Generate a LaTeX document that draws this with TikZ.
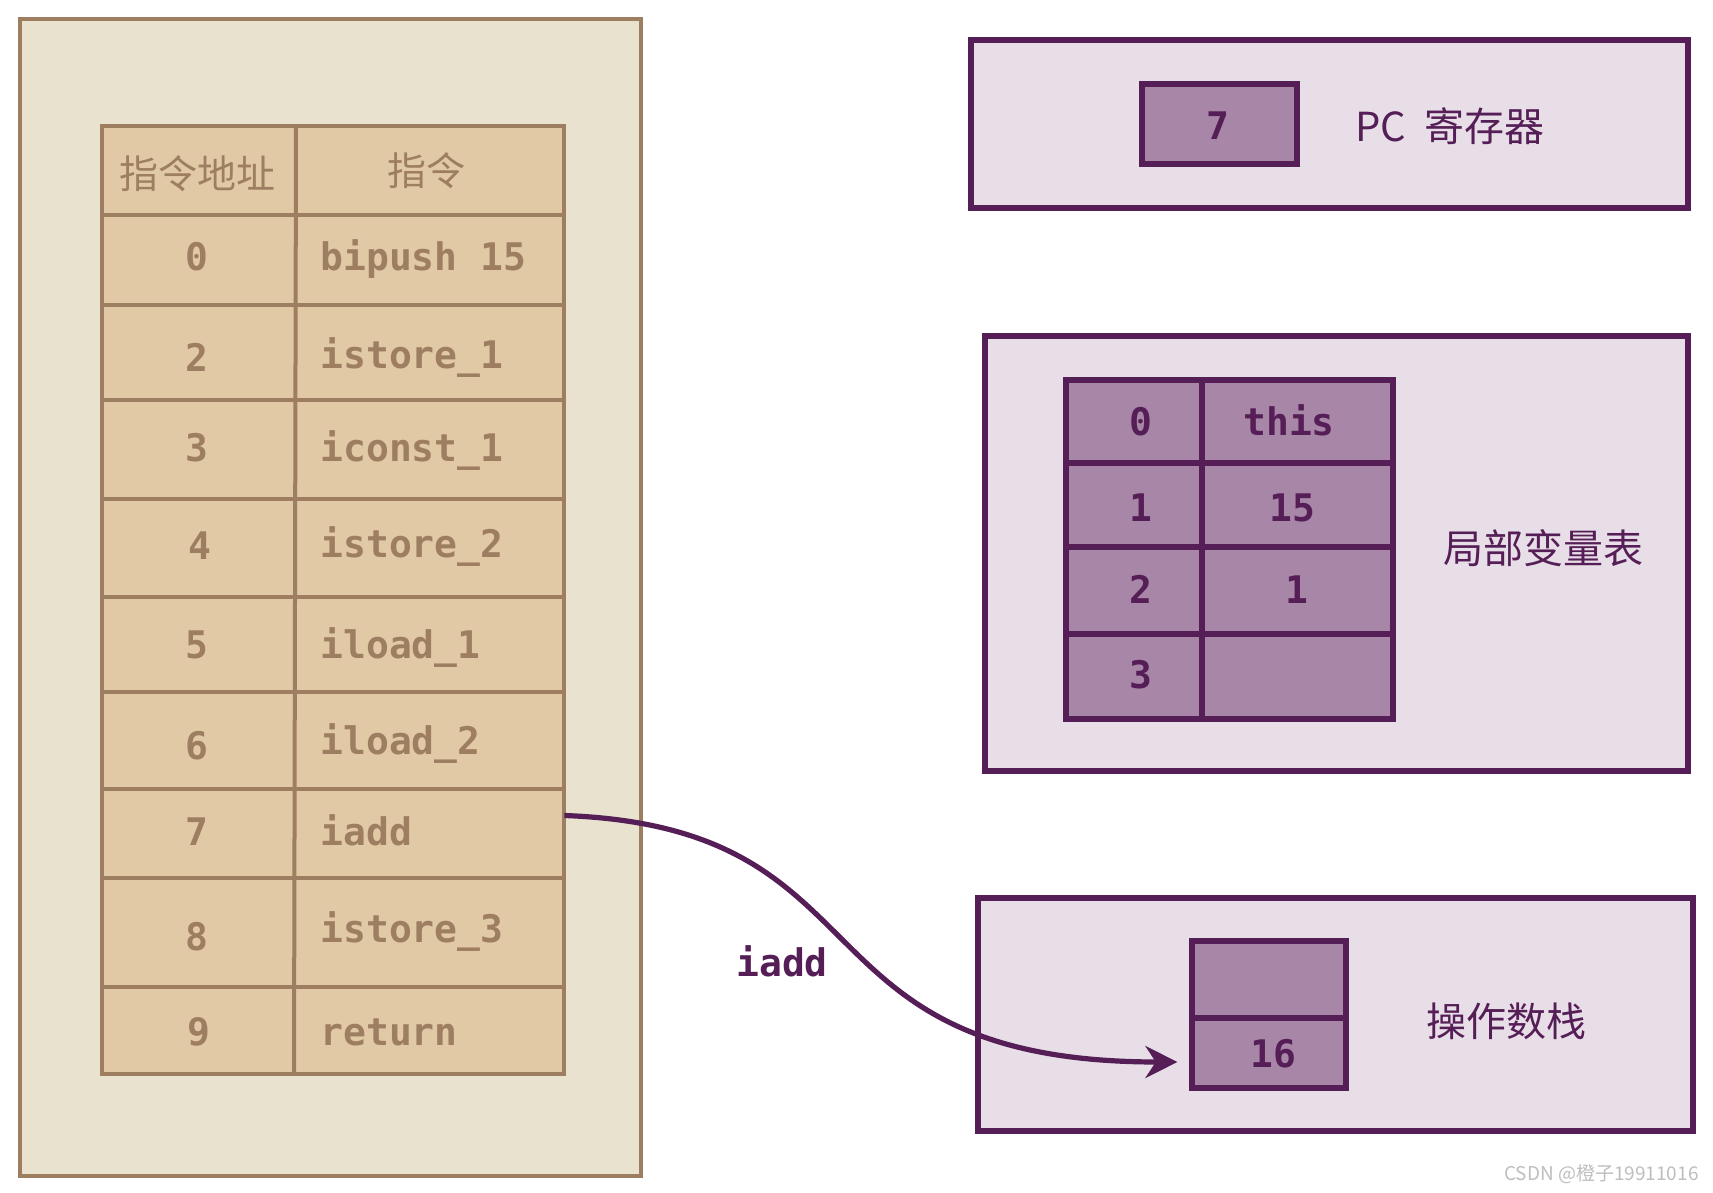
\documentclass[tikz,border=0pt]{standalone}
\usepackage{fontspec}
\setmonofont{DejaVu Sans Mono}
\newfontfamily\cjk{Noto Sans CJK SC}
\usetikzlibrary{arrows.meta}
\definecolor{outerfill}{HTML}{E9E2CF}
\definecolor{brownc}{HTML}{9E7E61}
\definecolor{tablefill}{HTML}{E1C9A5}
\definecolor{purc}{HTML}{561E56}
\definecolor{plight}{HTML}{E8DEE8}
\definecolor{pmid}{HTML}{A886A8}
\definecolor{wmark}{HTML}{BEBEBE}
\begin{document}
\begin{tikzpicture}[x=0.5pt,y=-0.5pt,
 bline/.style={draw=brownc, line width=2pt},
 pline/.style={draw=purc, line width=2.6pt},
 btxt/.style={text=brownc, font=\ttfamily\bfseries\fontsize{19}{19}\selectfont, inner sep=0pt, text height=13.8pt, text depth=0pt},
 bcjk/.style={text=brownc, font=\cjk\fontsize{19.5}{19.5}\selectfont, inner sep=0pt, text height=15pt, text depth=0pt},
 ptxt/.style={text=purc, font=\ttfamily\bfseries\fontsize{19}{19}\selectfont, inner sep=0pt, text height=13.8pt, text depth=0pt},
 pcjk/.style={text=purc, font=\cjk\fontsize{20}{20}\selectfont, inner sep=0pt, text height=15.2pt, text depth=0pt},
 cellbox/.style={pline, fill=pmid, inner sep=0pt},
]
\useasboundingbox (0,0) rectangle (1713,1193);
\fill[white] (0,0) rectangle (1713,1193);

% ---------- left: instruction table ----------
\draw[bline, fill=outerfill] (20,19) rectangle (641,1176);
\draw[bline, fill=tablefill] (102,126) rectangle (564,1074);
\foreach \yy in {215,305,400,499,597,692,789,878,987}
  \draw[bline] (100,\yy) -- (566,\yy);
\draw[bline] (296,126) -- (294,1074);

\node[bcjk] (h1) at (197,173) {指令地址};
\node[bcjk] (h2) at (426,170) {指令};

\node[btxt] (a0) at (197,257) {0};
\node[btxt] (a2) at (197,358) {2};
\node[btxt] (a3) at (197,448) {3};
\node[btxt] (a4) at (200,546) {4};
\node[btxt] (a5) at (197,645) {5};
\node[btxt] (a6) at (197,746) {6};
\node[btxt] (a7) at (197,832) {7};
\node[btxt] (a8) at (197,937) {8};
\node[btxt] (a9) at (199,1032) {9};

\node[btxt, anchor=west] (i0) at (320,257) {bipush 15};
\node[btxt, anchor=west] (i2) at (320,355) {istore\_1};
\node[btxt, anchor=west] (i3) at (320,448) {iconst\_1};
\node[btxt, anchor=west] (i4) at (320,544) {istore\_2};
\node[btxt, anchor=west] (i5) at (320,645) {iload\_1};
\node[btxt, anchor=west] (i6) at (320,741) {iload\_2};
\node[btxt, anchor=west] (i7) at (320,832) {iadd};
\node[btxt, anchor=west] (i8) at (320,929) {istore\_3};
\node[btxt, anchor=west] (i9) at (320,1032) {return};

% cell of row 7 (connector source)
\node[inner sep=0pt, minimum width=134.5pt, minimum height=44.5pt] (r7) at (429.5,833.5) {};

% ---------- right top: PC register ----------
\draw[pline, fill=plight] (971,40) rectangle (1688,208);
\node[cellbox, minimum width=77.5pt, minimum height=40pt] (pcbox) at (1219.5,124) {};
\node[ptxt] (pcval) at (1218,126) {7};
\node[pcjk, anchor=west] (pclabel) at (1355,126) {PC\hspace{0.45em}寄存器};

% ---------- right middle: local variable table ----------
\draw[pline, fill=plight] (985,336) rectangle (1688,771);
\draw[pline, fill=pmid] (1066,380) rectangle (1393,719);
\foreach \yy in {463,547,634}
  \draw[pline] (1066,\yy) -- (1393,\yy);
\draw[pline] (1202,380) -- (1202,719);
\node[ptxt] (l0) at (1141,422) {0};
\node[ptxt] (l1) at (1141,508) {1};
\node[ptxt] (l2) at (1141,590) {2};
\node[ptxt] (l3) at (1141,675) {3};
\node[ptxt] (v0) at (1289,422) {this};
\node[ptxt] (v1) at (1292,508) {15};
\node[ptxt] (v2) at (1297,590) {1};
\node[pcjk] (lvlabel) at (1543,548) {局部变量表};

% ---------- right bottom: operand stack ----------
\draw[pline, fill=plight] (978,898) rectangle (1693,1131);
\node[cellbox, minimum width=77pt, minimum height=38.5pt] (s0) at (1269,979.5) {};
\node[cellbox, minimum width=77pt, minimum height=35pt] (s16) at (1269,1053) {};
\node[ptxt] (s16t) at (1273,1054) {16};
\node[pcjk] (oslabel) at (1506,1021) {操作数栈};

% ---------- connector ----------
\draw[purc, line width=2.6pt, -{Stealth[length=16pt, width=16pt]}]
  ([yshift=9pt]r7.east) .. controls +(330,12) and +(-390,0) .. ([xshift=-6pt,yshift=-4.5pt]s16.west);
\node[ptxt] (iaddlabel) at (782,963) {iadd};

% watermark
\node[anchor=east, text=wmark, font=\cjk\fontsize{9.5}{9.5}\selectfont, inner sep=0pt] (wm) at (1699,1174) {CSDN @橙子19911016};
\end{tikzpicture}
\end{document}
